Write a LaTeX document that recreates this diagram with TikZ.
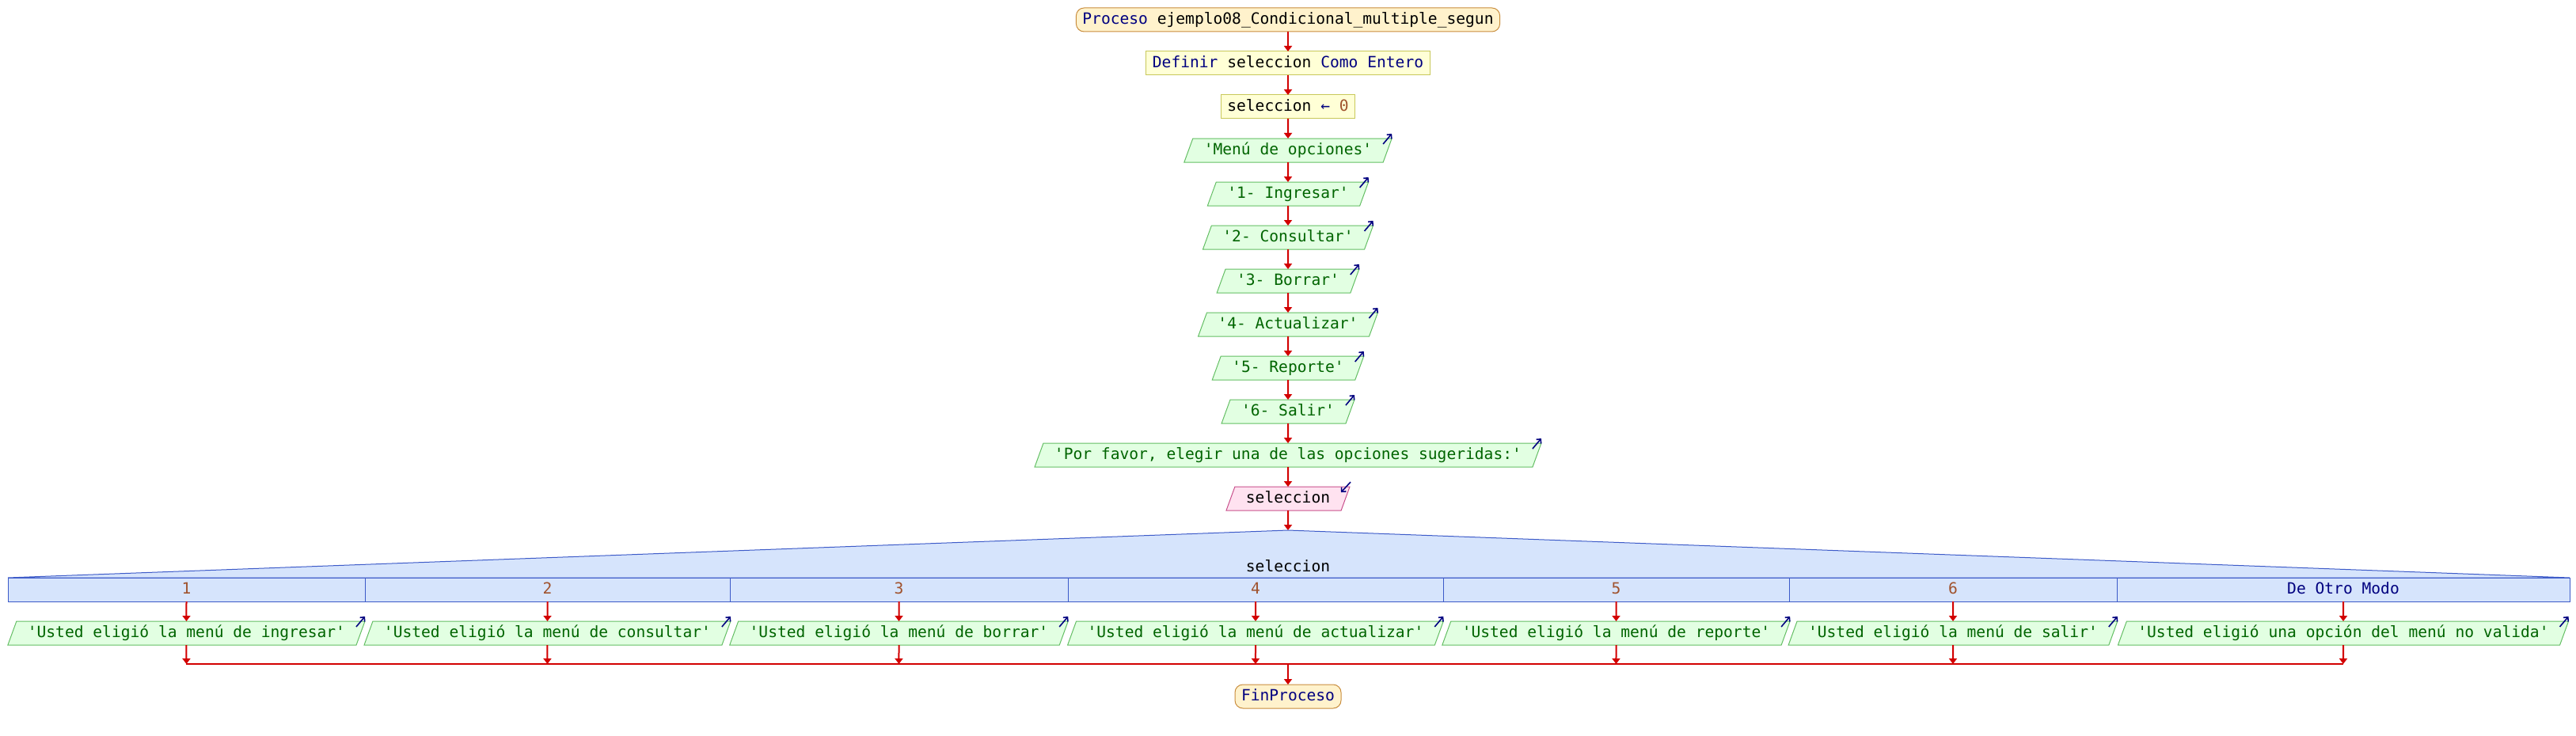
\documentclass[tikz,border=0pt]{standalone}
\usepackage{fontspec}
\setmonofont{DejaVu Sans Mono}
\usetikzlibrary{positioning,shapes.geometric,arrows.meta}

\definecolor{flowred}{RGB}{210,0,0}
\definecolor{kw}{RGB}{0,0,128}
\definecolor{num}{RGB}{160,82,45}
\definecolor{termfill}{RGB}{255,242,204}
\definecolor{termdraw}{RGB}{200,140,60}
\definecolor{asgfill}{RGB}{255,255,214}
\definecolor{asgdraw}{RGB}{200,200,90}
\definecolor{outfill}{RGB}{226,255,226}
\definecolor{outdraw}{RGB}{100,190,100}
\definecolor{outtext}{RGB}{0,100,0}
\definecolor{infill}{RGB}{255,226,240}
\definecolor{indraw}{RGB}{200,80,140}
\definecolor{casefill}{RGB}{214,228,252}
\definecolor{casedraw}{RGB}{60,90,200}

\begin{document}
\begin{tikzpicture}[node distance=12.5pt,
 font=\ttfamily\fontsize{9.8}{11}\selectfont,
 box size/.style={text height=7.5pt,text depth=2pt,inner ysep=2.75pt,minimum height=15pt,outer sep=0pt},
 term node/.style={box size,draw=termdraw,fill=termfill,line width=0.5pt,rounded corners=5pt,
   inner xsep=4pt},
 assign node/.style={box size,draw=asgdraw,fill=asgfill,line width=0.5pt,inner xsep=4pt},
 io node/.style={box size,trapezium,trapezium left angle=70,trapezium right angle=110,
   trapezium stretches body,line width=0.5pt,inner xsep=7pt},
 out node/.style={io node,draw=outdraw,fill=outfill,text=outtext},
 in node/.style={io node,draw=indraw,fill=infill},
 case node/.style={box size,draw=casedraw,fill=casefill,line width=0.5pt,inner xsep=0pt},
 flow/.style={draw=flowred,line width=1pt,-{Triangle[width=5pt,length=3.5pt]}},
 out mark/.style={draw=kw,line width=0.8pt,-{Straight Barb[width=4pt,length=2pt]}}]

  \useasboundingbox (0,0) rectangle (1627pt,-465pt);

  \node[term node] (proc) at (813.5pt,-12.5pt) {{\color{kw}Proceso} ejemplo08\_Condicional\_multiple\_segun};
  \node[assign node] (def) [below=of proc] {{\color{kw}Definir} seleccion {\color{kw}Como Entero}};
  \node[assign node] (init) [below=of def] {seleccion {\color{kw}←} {\color{num}0}};
  \node[out node] (menu) [below=of init] {'Menú de opciones'};
  \node[out node] (op1) [below=of menu] {'1- Ingresar'};
  \node[out node] (op2) [below=of op1] {'2- Consultar'};
  \node[out node] (op3) [below=of op2] {'3- Borrar'};
  \node[out node] (op4) [below=of op3] {'4- Actualizar'};
  \node[out node] (op5) [below=of op4] {'5- Reporte'};
  \node[out node] (op6) [below=of op5] {'6- Salir'};
  \node[out node] (ask) [below=of op6] {'Por favor, elegir una de las opciones sugeridas:'};
  \node[in node] (read) [below=of ask] {seleccion};

  \foreach \s/\t in {proc/def, def/init, init/menu, menu/op1, op1/op2, op2/op3,
    op3/op4, op4/op5, op5/op6, op6/ask, ask/read} {
   \path (\s) edge[flow] (\t);}

  \coordinate (apex) at (813.5pt,-335pt);
  \path (read) edge[flow] (apex);

  \foreach \n/\x/\w/\t in {1/117.75pt/225.5pt/{\color{num}1}, 2/345.75pt/230.5pt/{\color{num}2},
    3/567.75pt/213.5pt/{\color{num}3}, 4/793pt/237pt/{\color{num}4},
    5/1020.75pt/218.5pt/{\color{num}5}, 6/1233.5pt/207pt/{\color{num}6},
    7/1480pt/286pt/{\color{kw}De Otro Modo}} {
   \node[case node,minimum width=\w] (c\n) at (\x,-372.5pt) {\t};}

  \filldraw[fill=casefill,draw=casedraw,line width=0.5pt] (c1.north west) -- (apex) -- (c7.north east) -- cycle;
  \node (seg) at (813.5pt,-357.5pt) {seleccion};

  \foreach \n/\t in {1/{'Usted eligió la menú de ingresar'}, 2/{'Usted eligió la menú de consultar'},
    3/{'Usted eligió la menú de borrar'}, 4/{'Usted eligió la menú de actualizar'},
    5/{'Usted eligió la menú de reporte'}, 6/{'Usted eligió la menú de salir'},
    7/{'Usted eligió una opción del menú no valida'}} {
   \node[out node] (o\n) [below=of c\n] {\t};
   \path (c\n) edge[flow] (o\n);}

  \coordinate (joinline) at (0,-419.5pt);
  \foreach \n in {1,...,7} {
   \coordinate (j\n) at (o\n |- joinline);
   \path (o\n) edge[flow] (j\n);}
  \draw[flowred,line width=1pt] (j1) -- (j7);

  \node[term node] (fin) at (813.5pt,-440pt) {{\color{kw}FinProceso}};
  \coordinate (jfin) at (fin |- joinline);
  \path (jfin) edge[flow] (fin);

  \foreach \n in {menu,op1,op2,op3,op4,op5,op6,ask,o1,o2,o3,o4,o5,o6,o7} {
   \draw[out mark] ([shift={(-5.5pt,-3.5pt)}]\n.top right corner) -- ++(5.5pt,6.5pt);}
  \draw[out mark] ([shift={(0.5pt,3pt)}]read.top right corner) -- ++(-6pt,-6.5pt);
\end{tikzpicture}
\end{document}
